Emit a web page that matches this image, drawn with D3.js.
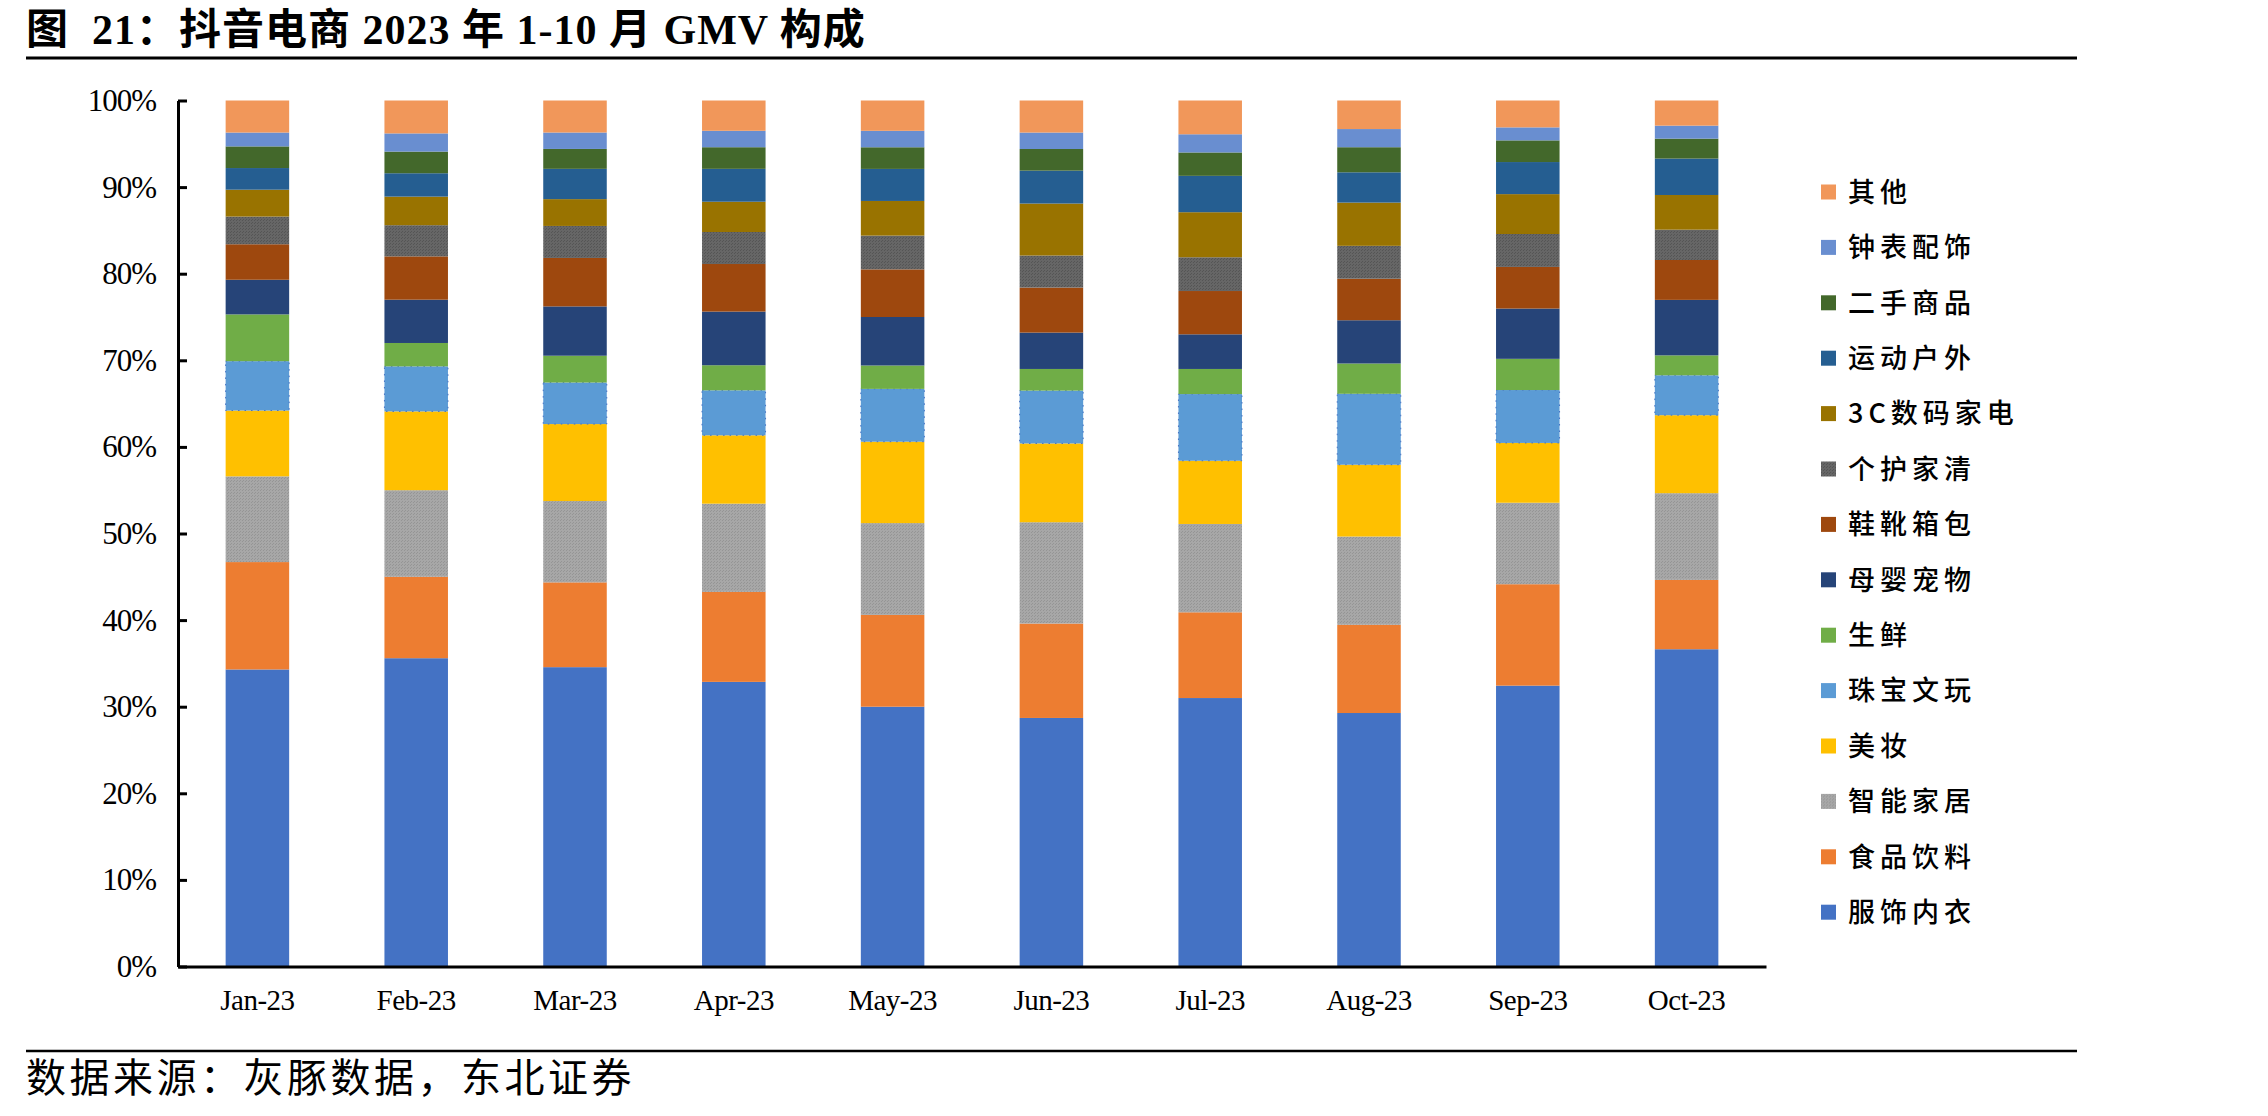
<!DOCTYPE html>
<html>
<head>
<meta charset="utf-8">
<script src="https://cdn.jsdelivr.net/npm/d3@7/dist/d3.min.js"></script>
<style>
  body { margin: 0; background: #fff; }
  text { font-family: "Liberation Serif", "Noto Sans CJK SC", serif; }
</style>
</head>
<body>
<svg id="chart" width="2268" height="1116"></svg>
<script>
// months and y ticks
const months = ['Jan-23', 'Feb-23', 'Mar-23', 'Apr-23', 'May-23', 'Jun-23', 'Jul-23', 'Aug-23', 'Sep-23', 'Oct-23'];
const yTicks = [0, 0.1, 0.2, 0.3, 0.4, 0.5, 0.6, 0.7, 0.8, 0.9, 1];

// share of GMV (%), bottom of the stack first
const fushiNeiyi = [34.3, 35.6, 34.6, 32.9, 30.0, 28.7, 31.0, 29.3, 32.4, 36.6];
const shipinYinliao = [12.4, 9.4, 9.8, 10.4, 10.6, 10.9, 9.9, 10.2, 11.7, 8.0];
const zhinengJiaju = [9.9, 10.0, 9.4, 10.2, 10.6, 11.7, 10.2, 10.2, 9.4, 10.0];
const meizhuang = [7.6, 9.1, 8.9, 7.9, 9.4, 9.1, 7.3, 8.3, 6.9, 9.0];
const zhubaoWenwan = [5.7, 5.2, 4.8, 5.2, 6.1, 6.1, 7.7, 8.2, 6.1, 4.6];
const shengxian = [5.4, 2.7, 3.1, 2.9, 2.7, 2.5, 2.9, 3.5, 3.6, 2.3];
const muyingChongwu = [4.0, 5.0, 5.7, 6.2, 5.6, 4.2, 4.0, 5.0, 5.8, 6.4];
const xiexueXiangbao = [4.1, 5.0, 5.6, 5.5, 5.5, 5.2, 5.0, 4.8, 4.8, 4.6];
const gehuJiaqing = [3.2, 3.6, 3.7, 3.7, 3.9, 3.7, 3.9, 3.8, 3.8, 3.5];
const shumaJiadian = [3.1, 3.3, 3.1, 3.5, 4.0, 6.0, 5.2, 5.0, 4.6, 4.0];
const yundongHuwai = [2.5, 2.7, 3.5, 3.8, 3.7, 3.8, 4.2, 3.5, 3.7, 4.2];
const ershouShangpin = [2.5, 2.5, 2.3, 2.5, 2.5, 2.5, 2.7, 2.9, 2.5, 2.3];
const zhongbiaoPeishi = [1.6, 2.1, 1.9, 1.9, 1.9, 1.9, 2.1, 2.1, 1.5, 1.5];
const qita = [3.7, 3.8, 3.7, 3.5, 3.5, 3.7, 3.9, 3.3, 3.1, 2.9];

const seriesNames = ['服饰内衣', '食品饮料', '智能家居', '美妆', '珠宝文玩', '生鲜', '母婴宠物',
    '鞋靴箱包', '个护家清', '3C数码家电', '运动户外', '二手商品', '钟表配饰', '其他'];
const seriesValues = [fushiNeiyi, shipinYinliao, zhinengJiaju, meizhuang, zhubaoWenwan, shengxian,
    muyingChongwu, xiexueXiangbao, gehuJiaqing, shumaJiadian, yundongHuwai, ershouShangpin,
    zhongbiaoPeishi, qita];
const seriesColors = ['#4472C4', '#ED7D31', 'url(#pGray)', '#FFC000', '#5B9BD5', '#70AD47', '#264478',
    '#9E480E', 'url(#pDark)', '#997300', '#255E91', '#43682B', '#698ED0', '#F1975A'];

const svg = d3.select('#chart');

/* s: patterns */
const defs = svg.append('defs');
function dotPattern(id, base, dot) {
    const p = defs.append('pattern')
        .attr('id', id)
        .attr('width', 3)
        .attr('height', 3)
        .attr('patternUnits', 'userSpaceOnUse');
    p.append('rect').attr('width', 3).attr('height', 3).attr('fill', base);
    p.append('rect').attr('width', 1).attr('height', 1).attr('fill', dot);
    p.append('rect').attr('x', 2).attr('y', 1).attr('width', 1).attr('height', 1).attr('fill', dot);
}
dotPattern('pGray', '#A7A7A7', '#959595');
dotPattern('pDark', '#666666', '#555555');
/* e: patterns */

const table = months.map((m, i) => {
    const row = { month: m };
    seriesNames.forEach((name, k) => { row[name] = seriesValues[k][i]; });
    return row;
});
const stacked = d3.stack()
    .keys(seriesNames)
    .offset(d3.stackOffsetExpand)(table);

const x = d3.scaleBand()
    .domain(months)
    .range([178, 1766])
    .paddingInner(0.6)
    .paddingOuter(0.3);
const y = d3.scaleLinear()
    .domain([0, 1])
    .range([966.5, 100.5]);

// bars
svg.append('g')
    .selectAll('g')
    .data(stacked)
    .join('g')
    .attr('fill', (d, i) => seriesColors[i])
    .each(function (layer) {
        const isJewel = layer.key === '珠宝文玩';
        d3.select(this)
            .selectAll('rect')
            .data(layer)
            .join('rect')
            .attr('x', (d) => x(d.data.month))
            .attr('y', (d) => y(d[1]))
            .attr('width', x.bandwidth())
            .attr('height', (d) => y(d[0]) - y(d[1]))
            .attr('stroke', isJewel ? '#4472C4' : 'none')
            .attr('stroke-width', isJewel ? 1 : 0)
            .attr('stroke-dasharray', isJewel ? '1.5 5' : null);
    });

// y axis
const yAxis = svg.append('g')
    .attr('transform', 'translate(178,0)')
    .call(d3.axisLeft(y)
        .tickValues(yTicks)
        .tickFormat(d3.format('.0%'))
        .tickSizeInner(-9)
        .tickSizeOuter(0)
        .tickPadding(22));
yAxis.select('.domain').attr('stroke', '#000').attr('stroke-width', 3);
yAxis.selectAll('.tick line').attr('stroke', '#000').attr('stroke-width', 3);
yAxis.selectAll('.tick text')
    .attr('fill', '#000')
    .style('font-family', '"Liberation Serif", serif')
    .style('font-size', '31px')
    .style('letter-spacing', '-1px');

// x axis
const xAxis = svg.append('g')
    .attr('transform', 'translate(0,966.5)')
    .call(d3.axisBottom(x).tickSize(0).tickPadding(23));
xAxis.select('.domain').attr('stroke', '#000').attr('stroke-width', 3);
xAxis.selectAll('.tick text')
    .attr('fill', '#000')
    .style('font-family', '"Liberation Serif", serif')
    .style('font-size', '29px')
    .style('letter-spacing', '-0.5px');

// legend, top item first
const legend = svg.append('g')
    .selectAll('g')
    .data(seriesNames.slice().reverse())
    .join('g')
    .attr('transform', (d, i) => `translate(1821,${192 + i * 55.4})`);
legend.append('rect')
    .attr('x', 0)
    .attr('y', -7.5)
    .attr('width', 15)
    .attr('height', 15)
    .attr('fill', (d) => seriesColors[seriesNames.indexOf(d)]);
legend.append('text')
    .attr('x', 27)
    .attr('y', 0)
    .attr('dy', '0.36em')
    .style('font-family', '"Noto Sans CJK SC", sans-serif')
    .style('font-size', '27px')
    .style('font-weight', 500)
    .style('letter-spacing', '5px')
    .text((d) => d);

// title and source
svg.append('text')
    .attr('x', 26)
    .attr('y', 44)
    .attr('xml:space', 'preserve')
    .style('white-space', 'pre')
    .style('font-family', '"Liberation Serif", "Noto Sans CJK SC", serif')
    .style('font-size', '42px')
    .style('font-weight', 700)
    .style('letter-spacing', '1px')
    .text('图  21：抖音电商 2023 年 1-10 月 GMV 构成');
svg.append('line')
    .attr('x1', 26).attr('x2', 2077)
    .attr('y1', 58).attr('y2', 58)
    .attr('stroke', '#000').attr('stroke-width', 3);
svg.append('line')
    .attr('x1', 26).attr('x2', 2077)
    .attr('y1', 1051).attr('y2', 1051)
    .attr('stroke', '#000').attr('stroke-width', 2.5);
svg.append('text')
    .attr('x', 26)
    .attr('y', 1092)
    .style('font-family', '"Noto Sans CJK SC", sans-serif')
    .style('font-size', '40px')
    .style('font-weight', 400)
    .style('letter-spacing', '3.5px')
    .text('数据来源：灰豚数据，东北证券');
</script>
</body>
</html>
